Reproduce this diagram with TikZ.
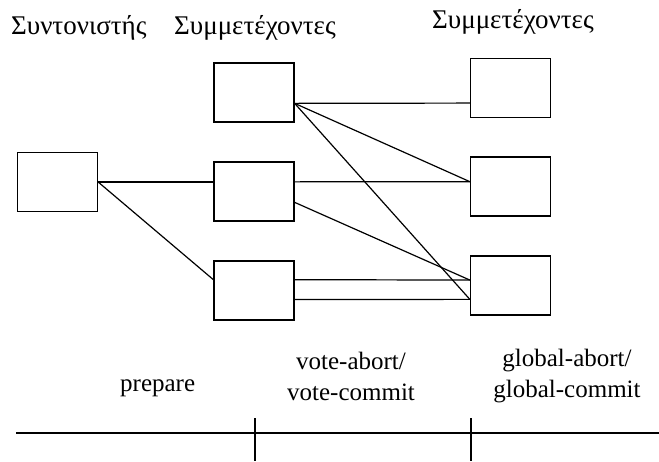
\documentclass[tikz,border=0pt]{standalone}
\usepackage{fontspec}
\setmainfont{Liberation Serif}
\usetikzlibrary{calc}
\begin{document}
\begin{tikzpicture}[x=1pt,y=-1pt,
  box/.style={draw,line width=1.3pt,minimum width=80pt,minimum height=59pt,inner sep=0pt},
  conn/.style={line width=1.2pt},
  lbl/.style={inner sep=0pt,font=\fontsize{25}{31}\selectfont},
  glbl/.style={inner sep=0pt,font=\fontsize{27}{32}\selectfont},
  axis/.style={line width=1.2pt}]
\useasboundingbox (0,0) rectangle (659,461);
% boxes
\node[box] (C)  at (57.5,182) {};
\node[box] (M1) at (254,92.5) {};
\node[box] (M2) at (254,191.5) {};
\node[box] (M3) at (254,290.5) {};
\node[box] (R1) at (510.5,88) {};
\node[box] (R2) at (510.5,186.5) {};
\node[box] (R3) at (510.5,285.5) {};
% labels
\node[glbl,anchor=base west] (t1) at (11,34) {Συντονιστής};
\node[glbl,anchor=base west] (t2) at (174,34) {Συμμετέχοντες};
\node[glbl,anchor=base west] (t3) at (432,28) {Συμμετέχοντες};
% connectors
\draw[conn] (C.east) -- (C.east -| M2.west);
\draw[conn] (C.east) -- ($(M3.north west)!0.32!(M3.south west)$);
\draw[conn] ($(M1.north east)!0.68!(M1.south east)$) -- ($(R1.north west)!0.75!(R1.south west)$);
\draw[conn] ($(M1.north east)!0.68!(M1.south east)$) -- ($(R2.north west)!0.42!(R2.south west)$);
\draw[conn] ($(M1.north east)!0.68!(M1.south east)$) -- ($(R3.north west)!0.73!(R3.south west)$);
\draw[conn] ($(M2.north east)!0.34!(M2.south east)$) -- ($(R2.north west)!0.42!(R2.south west)$);
\draw[conn] ($(M2.north east)!0.68!(M2.south east)$) -- ($(R3.north west)!0.41!(R3.south west)$);
\draw[conn] ($(M3.north east)!0.32!(M3.south east)$) -- ($(R3.north west)!0.41!(R3.south west)$);
\draw[conn] ($(M3.north east)!0.65!(M3.south east)$) -- ($(R3.north west)!0.73!(R3.south west)$);
% time axis
\coordinate (a0) at (16,433);
\coordinate (a1) at (659,433);
\coordinate (k1) at (255,418);
\coordinate (k2) at (471,418);
\draw[axis] (a0) -- (a1);
\draw[axis] (k1) -- (k1 |- 0,461);
\draw[axis] (k2) -- (k2 |- 0,461);
\node[lbl,anchor=base west] (p) at (120,391) {prepare};
\node[lbl,align=center] (v) at (351,376) {vote-abort/\\vote-commit};
\node[lbl,align=center] (g) at (567,376) {global-abort/\\global-commit};
\end{tikzpicture}
\end{document}
